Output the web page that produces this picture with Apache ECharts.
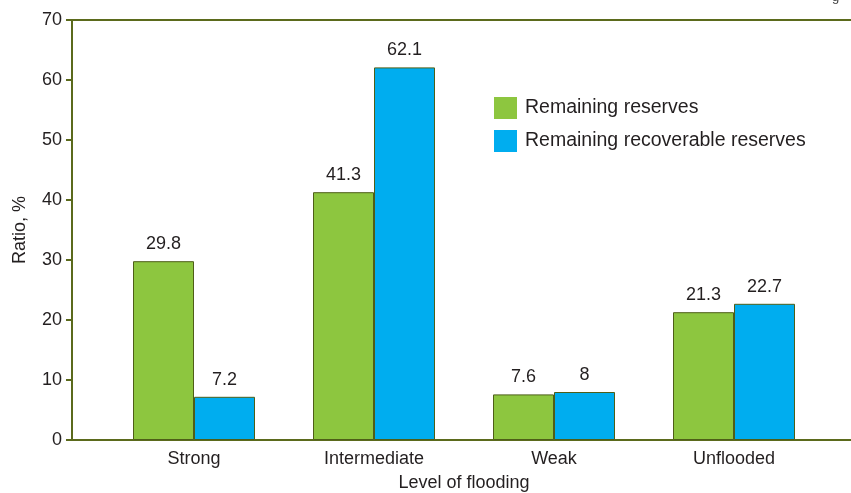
<!DOCTYPE html>
<html>
<head>
<meta charset="utf-8">
<script src="https://cdn.jsdelivr.net/npm/echarts@6/dist/echarts.min.js"></script>
<style>
  html, body { margin: 0; padding: 0; background: #fff; }
  #main { width: 851px; height: 493px; }
</style>
</head>
<body>
<div id="main"></div>
<script>
const categories = ['Strong', 'Intermediate', 'Weak', 'Unflooded'];
const remainingReserves = [29.8, 41.3, 7.6, 21.3];
const recoverableReserves = [7.2, 62.1, 8, 22.7];
const seriesNames = ['Remaining reserves', 'Remaining recoverable reserves'];

const axisColor = '#5b6a1c';
const textColor = '#231f20';
const font = 'Liberation Sans, Arial, sans-serif';

var chart = echarts.init(document.getElementById('main'));

var barLabel = {
    show: true,
    position: 'top',
    distance: 8,
    fontSize: 18,
    color: textColor,
    fontFamily: font
};

var option = {
    animation: false,
    textStyle: { fontFamily: font },
    grid: [
        { left: 72, right: 0, top: 20, bottom: 53, outerBoundsMode: 'none', containLabel: false },
        { left: 104, right: 27, top: 20, bottom: 53, outerBoundsMode: 'none', containLabel: false }
    ],
    legend: {
        orient: 'vertical',
        left: 494,
        top: 97,
        padding: 0,
        itemWidth: 23,
        itemHeight: 22,
        itemGap: 11,
        icon: 'rect',
        itemStyle: { borderWidth: 0 },
        textStyle: { fontSize: 19.5, color: textColor, fontFamily: font, padding: [0, 0, 0, 3] },
        data: seriesNames
    },
    xAxis: [
        {
            type: 'value', gridIndex: 0, min: 0, max: 1, position: 'bottom',
            axisLine: { show: true, lineStyle: { color: axisColor, width: 2 } },
            axisTick: { show: false }, axisLabel: { show: false }, splitLine: { show: false }
        },
        {
            type: 'value', gridIndex: 0, min: 0, max: 1, position: 'top',
            axisLine: { show: true, lineStyle: { color: axisColor, width: 2 } },
            axisTick: { show: false }, axisLabel: { show: false }, splitLine: { show: false }
        },
        {
            type: 'category', gridIndex: 1, data: categories,
            axisLine: { show: false }, axisTick: { show: false },
            axisLabel: { fontSize: 18, color: textColor, margin: 10, fontFamily: font },
            name: 'Level of flooding', nameLocation: 'middle', nameGap: 34,
            nameTextStyle: { fontSize: 18, color: textColor, fontFamily: font }
        }
    ],
    yAxis: [
        {
            type: 'value', gridIndex: 0, min: 0, max: 70, interval: 10,
            axisLine: { show: true, lineStyle: { color: axisColor, width: 2 } },
            axisTick: { show: true, length: 6, lineStyle: { color: axisColor, width: 2 } },
            axisLabel: { fontSize: 18, color: textColor, margin: 10, fontFamily: font },
            splitLine: { show: false },
            name: 'Ratio, %', nameLocation: 'middle', nameGap: 43,
            nameTextStyle: { fontSize: 18, color: textColor, fontFamily: font }
        },
        {
            type: 'value', gridIndex: 1, min: 0, max: 70, interval: 10, show: false
        }
    ],
    series: [
        {
            name: seriesNames[0], type: 'bar', xAxisIndex: 2, yAxisIndex: 1,
            data: remainingReserves, barWidth: 61, barGap: '0%',
            itemStyle: { color: '#8dc63f', borderColor: '#4e5e18', borderWidth: 1 },
            label: barLabel
        },
        {
            name: seriesNames[1], type: 'bar', xAxisIndex: 2, yAxisIndex: 1,
            data: recoverableReserves, barWidth: 61, barGap: '0%',
            itemStyle: { color: '#00adef', borderColor: '#4e5e18', borderWidth: 1 },
            label: barLabel
        }
    ],
    graphic: [
        { type: 'text', left: 832, top: -9, style: { text: 'g', fontSize: 13, fill: '#444', fontFamily: font } }
    ]
};

chart.setOption(option);
</script>
</body>
</html>
